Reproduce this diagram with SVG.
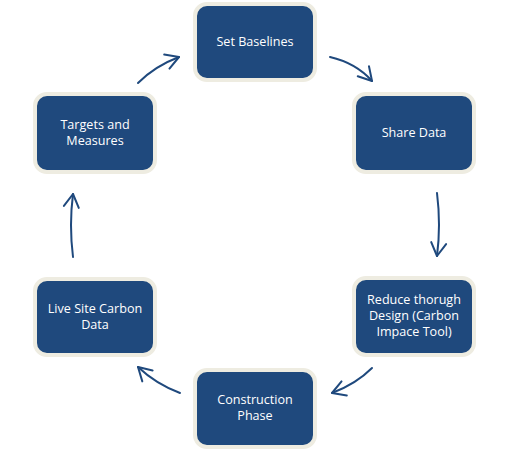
<svg xmlns="http://www.w3.org/2000/svg" width="509" height="450" viewBox="0 0 509 450">
<defs>
<style>
.box{fill:#1F497D;stroke:#EEECE1;stroke-width:4}
.lbl{fill:#FFFFFF;font-family:"Open Sans","Liberation Sans",sans-serif;font-size:12.6px;text-anchor:middle}
.arr{fill:none;stroke:#1F497D;stroke-width:2;stroke-linecap:round;marker-end:url(#head)}
</style>
<marker id="head" markerUnits="userSpaceOnUse" markerWidth="20" markerHeight="20" refX="16" refY="10" orient="auto" overflow="visible">
<path d="M3,2.5 L16,10 L3,17.5" fill="none" stroke="#1F497D" stroke-width="2" stroke-linecap="round" stroke-linejoin="round"/>
</marker>
</defs>
<rect width="509" height="450" fill="#FFFFFF"/>
<g id="connectors">
<path class="arr" d="M330,57 Q356,63 372,81"/>
<path class="arr" d="M437,193 Q441,225 437,256"/>
<path class="arr" d="M372,368 Q356,384 332,393"/>
<path class="arr" d="M180,393 Q156,384 138,367"/>
<path class="arr" d="M73,257 Q69,225 73,194"/>
<path class="arr" d="M138,83 Q155,66 179,57"/>
</g>
<g id="set-baselines">
<rect class="box" x="195" y="4" width="120" height="76" rx="12"/>
<text class="lbl" x="255" y="46">Set Baselines</text>
</g>
<g id="share-data">
<rect class="box" x="354" y="94" width="120" height="78" rx="12"/>
<text class="lbl" x="414" y="137">Share Data</text>
</g>
<g id="reduce-design">
<rect class="box" x="354" y="278" width="120" height="77" rx="12"/>
<text class="lbl" x="414" y="304">Reduce thorugh</text>
<text class="lbl" x="414" y="320">Design (Carbon</text>
<text class="lbl" x="414" y="336">Impace Tool)</text>
</g>
<g id="construction-phase">
<rect class="box" x="195" y="370" width="120" height="77" rx="12"/>
<text class="lbl" x="255" y="404">Construction</text>
<text class="lbl" x="255" y="420">Phase</text>
</g>
<g id="live-site">
<rect class="box" x="35" y="279" width="120" height="76" rx="12"/>
<text class="lbl" x="95" y="313">Live Site Carbon</text>
<text class="lbl" x="95" y="329">Data</text>
</g>
<g id="targets">
<rect class="box" x="35" y="94" width="120" height="78" rx="12"/>
<text class="lbl" x="95" y="129">Targets and</text>
<text class="lbl" x="95" y="145">Measures</text>
</g>
</svg>
